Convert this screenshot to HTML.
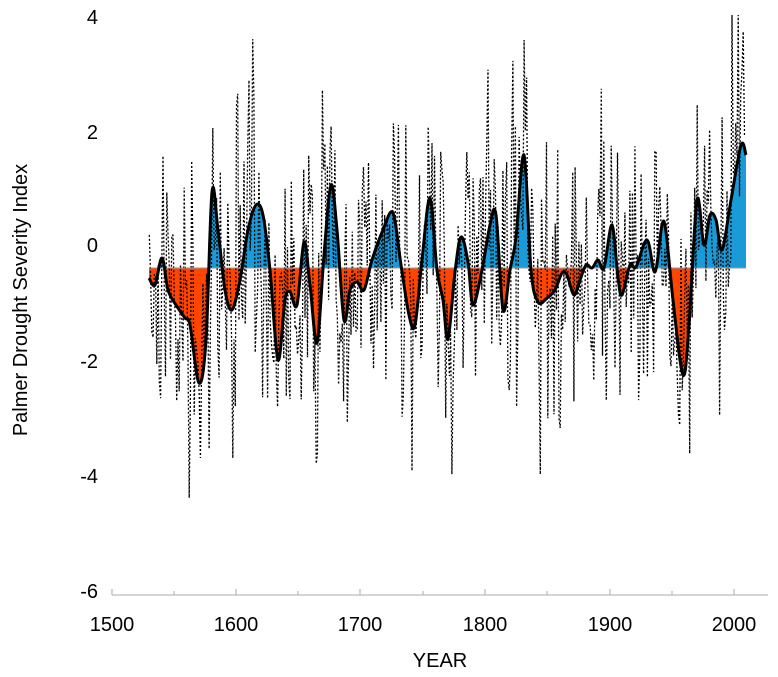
<!DOCTYPE html>
<html><head><meta charset="utf-8"><style>
body{margin:0;background:#fff;}
svg{display:block;font-family:"Liberation Sans",Arial,sans-serif;}
</style></head><body>
<svg id="s" width="778" height="677" viewBox="0 0 778 677" xmlns="http://www.w3.org/2000/svg">
<defs>
<clipPath id="up"><rect x="0" y="0" width="778" height="268"/></clipPath>
<clipPath id="dn"><rect x="0" y="268" width="778" height="400"/></clipPath>
</defs>
<g font-size="20" fill="#000" text-anchor="end">
<text x="98" y="24">4</text>
<text x="98" y="139">2</text>
<text x="98" y="252">0</text>
<text x="98" y="368">-2</text>
<text x="98" y="483">-4</text>
<text x="98" y="598">-6</text>
</g>
<g font-size="20" text-anchor="middle">
<text x="112" y="631">1500</text><text x="236" y="631">1600</text><text x="360" y="631">1700</text>
<text x="485" y="631">1800</text><text x="610" y="631">1900</text><text x="734" y="631">2000</text>
<text x="440" y="667">YEAR</text>
</g>
<text transform="translate(27,300) rotate(-90)" font-size="20" text-anchor="middle">Palmer Drought Severity Index</text>
<g stroke="#aaa" stroke-width="1">
<line x1="112" y1="595" x2="768" y2="595"/>
<line x1="112" y1="589" x2="112" y2="595"/><line x1="174" y1="591" x2="174" y2="595"/>
<line x1="236" y1="589" x2="236" y2="595"/><line x1="298" y1="591" x2="298" y2="595"/>
<line x1="360" y1="589" x2="360" y2="595"/><line x1="423" y1="591" x2="423" y2="595"/>
<line x1="485" y1="589" x2="485" y2="595"/><line x1="547" y1="591" x2="547" y2="595"/>
<line x1="610" y1="589" x2="610" y2="595"/><line x1="672" y1="591" x2="672" y2="595"/>
<line x1="734" y1="589" x2="734" y2="595"/>
</g>
<g id="fills"></g>
<path id="dots" fill="none" stroke="#000" stroke-width="1.3" stroke-dasharray="2 2"/>
<line x1="149" y1="268" x2="746" y2="268" stroke="#999" stroke-width="1"/>
<path id="smooth" fill="none" stroke="#000" stroke-width="3"/>
</svg>
<script>
var P=[[149,278],[155,285],[162,258],[168,290],[176,305],[185,318],[190,325],[199,383],[206,340],[212,192],[218,230],[225,290],[232,310],[240,280],[248,230],[256,205],[263,215],[270,270],[278,360],[285,300],[290,292],[297,305],[304,242],[310,285],[317,343],[324,255],[331,185],[337,230],[344,320],[350,290],[357,282],[364,290],[372,260],[383,230],[393,213],[401,265],[409,315],[415,325],[422,260],[430,198],[437,270],[443,300],[448,339],[455,272],[461,237],[468,262],[473,305],[482,270],[490,225],[496,215],[503,310],[510,270],[516,237],[524,155],[531,270],[538,302],[547,298],[555,290],[562,273],[567,275],[574,295],[580,280],[586,265],[592,268],[598,260],[604,268],[612,225],[618,278],[622,295],[630,265],[636,267],[647,240],[655,272],[662,225],[666,232],[673,300],[683,375],[689,325],[697,200],[704,245],[710,215],[716,220],[722,250],[731,200],[741,145],[746,155]];
function cr(pts){var d="M"+pts[0][0]+","+pts[0][1];for(var i=0;i<pts.length-1;i++){var p0=pts[i-1]||pts[i],p1=pts[i],p2=pts[i+1],p3=pts[i+2]||p2;
d+=" C"+(p1[0]+(p2[0]-p0[0])/6).toFixed(1)+","+(p1[1]+(p2[1]-p0[1])/6).toFixed(1)+" "+(p2[0]-(p3[0]-p1[0])/6).toFixed(1)+","+(p2[1]-(p3[1]-p1[1])/6).toFixed(1)+" "+p2[0]+","+p2[1];}return d;}
var d=cr(P);
document.getElementById('smooth').setAttribute('d',d);
var fd=d+" L746,268 L149,268 Z";
document.getElementById('fills').innerHTML='<path d="'+fd+'" fill="#1a9ad6" clip-path="url(#up)"/><path d="'+fd+'" fill="#ff4500" clip-path="url(#dn)"/>';
function yAt(x){for(var i=0;i<P.length-1;i++){if(x<=P[i+1][0]){var t=(x-P[i][0])/(P[i+1][0]-P[i][0]);return P[i][1]+t*(P[i+1][1]-P[i][1]);}}return P[P.length-1][1];}
var seed=7;function rnd(){seed=(seed*16807)%2147483647;return seed/2147483647;}
var dd="";for(var yr=1530;yr<=2008;yr++){var x=112+(yr-1500)*1.245;var n=(rnd()+rnd()+rnd()-1.5)*2*75;var y=yAt(x)+n;y=Math.max(15,Math.min(585,y));dd+=(yr==1530?"M":"L")+x.toFixed(1)+","+y.toFixed(1)+" ";}
document.getElementById('dots').setAttribute('d',dd);
</script>
</body></html>
